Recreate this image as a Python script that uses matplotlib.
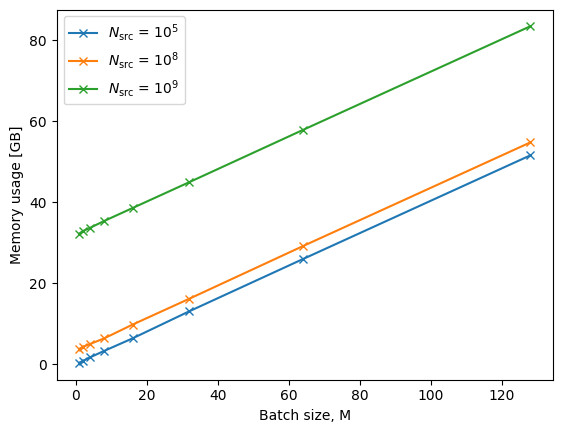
import numpy as np
import matplotlib
matplotlib.use("Agg")
import matplotlib.pyplot as plt

batch = [1, 2, 4, 8, 16, 32, 64, 128]
mem_1e5 = [0.4, 0.8, 1.7, 3.3, 6.4, 13.1, 26.0, 51.6]
mem_1e8 = [3.8, 4.3, 5.0, 6.4, 9.8, 16.2, 29.2, 54.8]
mem_1e9 = [32.3, 32.9, 33.7, 35.4, 38.6, 45.0, 57.9, 83.5]
labels = [r"$N_{\mathrm{src}}$ = $10^5$", r"$N_{\mathrm{src}}$ = $10^8$", r"$N_{\mathrm{src}}$ = $10^9$"]

fig = plt.figure(figsize=(5.62, 4.32), dpi=100)
ax = fig.add_axes([56.7/562, 1 - 379.5/432, 496/562, 370/432])

for y, lab in zip([mem_1e5, mem_1e8, mem_1e9], labels):
    ax.plot(batch, y, marker="x", label=lab)

ax.set_xlabel("Batch size, M")
ax.set_ylabel("Memory usage [GB]")
ax.legend(loc="upper left")

fig.savefig("out.png", dpi=100)
